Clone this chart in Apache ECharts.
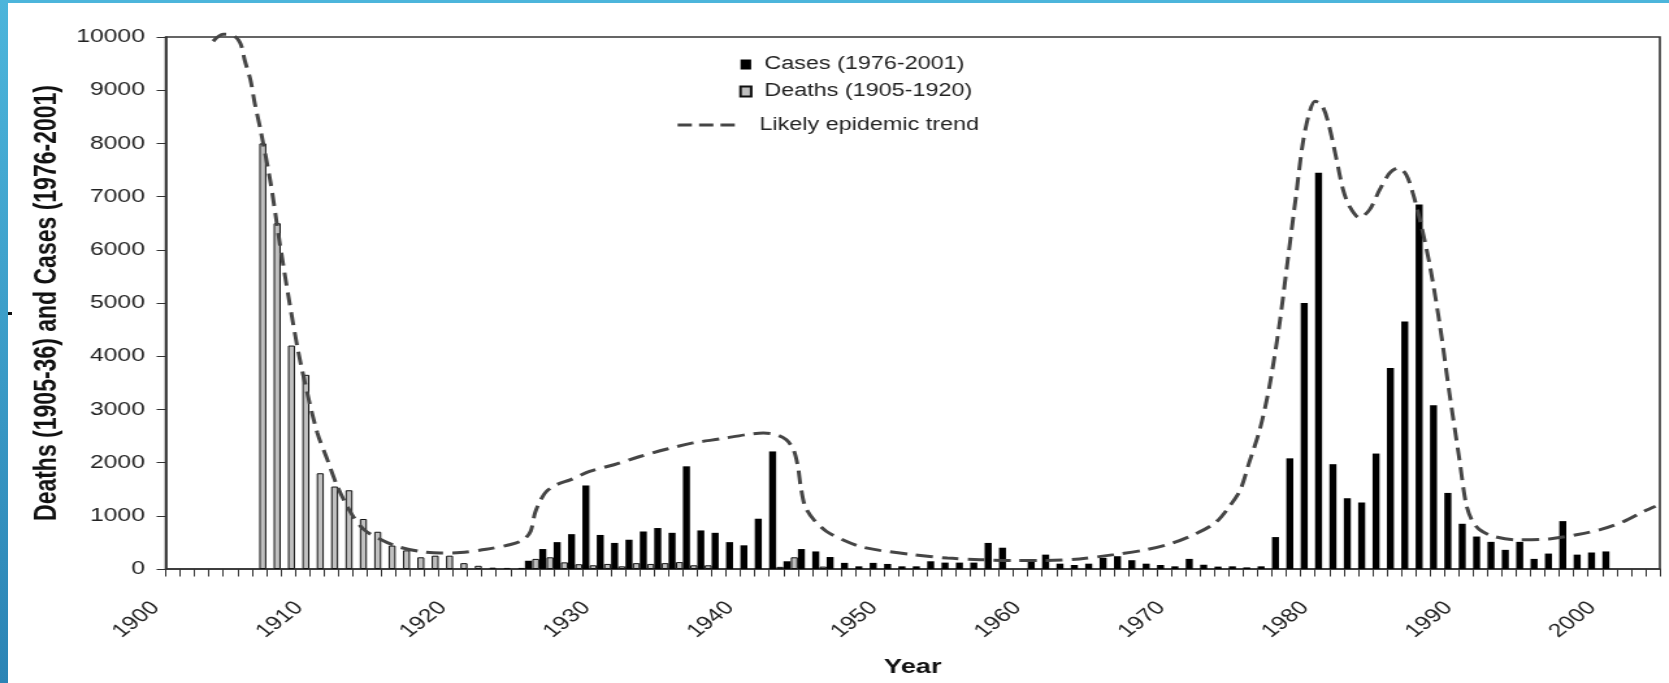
<!DOCTYPE html>
<html>
<head>
<meta charset="utf-8">
<script src="https://cdn.jsdelivr.net/npm/echarts@6/dist/echarts.min.js"></script>
<style>
  html, body { margin: 0; padding: 0; background: #fff; overflow: hidden; }
  #chart {
    position: absolute; left: 0; top: 0;
    width: 1284px; height: 683px;
    /* the source figure is stretched horizontally */
    transform: scaleX(1.2998); transform-origin: 0 0;
  }
  .edge-left { position: absolute; left: 0; top: 0; width: 8px; height: 683px; background: linear-gradient(#4cb5db, #2b84b5); z-index: 2; }
  .edge-top { position: absolute; left: 0; top: 0; width: 1669px; height: 3px; background: #4cb5db; z-index: 2; }
  .mark { position: absolute; left: 8px; top: 312px; width: 4px; height: 3px; background: #111; z-index: 2; }
</style>
</head>
<body>
<div id="chart"></div>
<div class="edge-left"></div>
<div class="edge-top"></div>
<div class="mark"></div>
<script>
const FONT = "'Liberation Sans', Arial, sans-serif";

// category axis: one slot per year
const firstYear = 1900;
const lastYear = 2004;

// grey bars, from 1907
const deathsFrom = 1907;
const deaths = [8000, 6500, 4200, 3650, 1800, 1550, 1480, 940, 700, 440,
  350, 220, 250, 250, 110, 60, 25, 20, 20, 190,
  220, 125, 90, 70, 95, 50, 110, 95, 110, 130,
  70, 70, 0, 0, 0, 0, 40, 220, 0, 45];

// black bars, from 1925
const casesFrom = 1925;
const cases = [155, 375, 505, 655, 1570, 640, 490, 550, 705, 770,
  680, 1930, 725, 680, 505, 445, 945, 2210, 145, 375,
  330, 225, 115, 50, 115, 95, 50, 50, 145, 120,
  120, 120, 490, 400, 0, 145, 270, 100, 75, 100,
  210, 240, 165, 100, 75, 50, 190, 80, 45, 50,
  30, 50, 600, 2080, 5000, 7450, 1970, 1330, 1250, 2170,
  3780, 4650, 6850, 3080, 1430, 850, 610, 510, 360, 510,
  190, 290, 900, 270, 310, 330];

// dashed trend, [year, value]
const trend = [
  [1903.3, 9920], [1904.0, 10050], [1904.7, 10030], [1905.2, 9880], [1905.5, 9560],
  [1905.9, 9190], [1906.2, 8750], [1906.6, 8250], [1907.3, 7260], [1907.9, 6190],
  [1908.5, 5190], [1909.2, 4120], [1909.85, 3310], [1910.55, 2560], [1911.25, 2055],
  [1911.95, 1550], [1912.9, 1050], [1913.8, 740], [1915.0, 550], [1916.1, 425],
  [1917.7, 330], [1919.1, 300], [1920.5, 310], [1922.3, 370], [1924.0, 460],
  [1924.9, 550], [1925.4, 710], [1925.7, 1050], [1926.1, 1300], [1926.5, 1460],
  [1927.2, 1585], [1928.2, 1680], [1929.5, 1835], [1931.2, 1960], [1933.0, 2115],
  [1934.9, 2255], [1936.7, 2370], [1938.6, 2445], [1940.4, 2525], [1941.6, 2555],
  [1942.5, 2525], [1943.2, 2430], [1943.7, 2240], [1944.0, 1930], [1944.2, 1550],
  [1944.5, 1180], [1945.1, 930], [1946.0, 705], [1947.2, 540], [1948.3, 425],
  [1949.7, 350], [1952.0, 270], [1954.4, 205], [1956.7, 175], [1959.0, 160],
  [1961.3, 160], [1963.6, 190], [1966.0, 270], [1968.3, 365], [1970.1, 490],
  [1971.8, 675], [1973.1, 880], [1974.1, 1200], [1974.8, 1490], [1975.4, 1990],
  [1976.15, 2620], [1976.8, 3400], [1977.5, 4560], [1978.1, 5810], [1978.7, 7070],
  [1979.15, 8010], [1979.6, 8570], [1980.0, 8790], [1980.45, 8730], [1980.9, 8410],
  [1981.5, 7690], [1981.95, 7130], [1982.4, 6815], [1983.1, 6600], [1983.8, 6755],
  [1984.5, 7130], [1985.2, 7445], [1985.8, 7540], [1986.35, 7410], [1986.8, 7070],
  [1987.3, 6565], [1988.0, 5690], [1988.7, 4560], [1989.35, 3310], [1990.05, 2055],
  [1990.5, 1240], [1990.9, 925], [1991.45, 740], [1992.4, 615], [1994.0, 550],
  [1996.3, 565], [1998.2, 645], [1999.85, 740], [2001.5, 895], [2002.9, 1085],
  [2003.7, 1180]
];

const yMax = 10000;
const yStep = 1000;

const years = [];
for (let y = firstYear; y <= lastYear; y++) years.push(String(y));

function padSeries(from, values) {
  return years.map(function (y) {
    const v = values[Number(y) - from];
    return v ? v : null;
  });
}

const axisColor = "#333";
const trendColor = "#454545";
const chart = echarts.init(document.getElementById("chart"));

chart.setOption({
  animation: false,
  textStyle: { fontFamily: FONT },
  grid: {
    left: 127.5, right: 7, top: 37, bottom: 114,
    show: true, borderColor: axisColor, borderWidth: 1.6
  },
  legend: [
    {
      orient: "vertical",
      left: 568.7, top: 55.5,
      padding: 0,
      itemGap: 9,
      itemWidth: 8.2, itemHeight: 10,
      symbolKeepAspect: false,
      selectedMode: false,
      data: [
        { name: "Cases (1976-2001)", icon: "rect" },
        { name: "Deaths (1905-1920)", icon: "rect" }
      ],
      textStyle: { fontSize: 18, color: "#222", padding: [0, 0, 0, 5] }
    },
    {
      orient: "vertical",
      left: 519.8, top: 116,
      padding: 0,
      itemWidth: 44, itemHeight: 10,
      selectedMode: false,
      data: [{ name: "Likely epidemic trend" }],
      itemStyle: { opacity: 0 },
      lineStyle: { type: [11, 5.5], width: 3, color: trendColor },
      textStyle: { fontSize: 18, color: "#222", padding: [0, 0, 0, 14] }
    }
  ],
  xAxis: [
    {
      type: "category",
      data: years,
      boundaryGap: false,
      name: "Year",
      nameLocation: "middle",
      nameGap: 88,
      nameTextStyle: { fontSize: 21, fontWeight: "bold", color: "#111" },
      axisLine: { lineStyle: { color: axisColor, width: 1.6 } },
      axisTick: { show: true, interval: 0, length: 7.5, lineStyle: { color: axisColor, width: 1 } },
      axisLabel: {
        interval: 9, rotate: 45, margin: 28, padding: [0, 11, 0, 0],
        fontSize: 19, color: "#222"
      },
      splitLine: { show: false }
    },
    { type: "value", min: firstYear, max: lastYear, show: false }
  ],
  yAxis: {
    type: "value",
    min: 0, max: yMax, interval: yStep,
    name: "Deaths (1905-36) and Cases (1976-2001)",
    nameLocation: "middle",
    nameGap: 79,
    nameTextStyle: { fontSize: 23, fontWeight: "bold", color: "#111" },
    axisLine: { show: true, lineStyle: { color: axisColor, width: 1.6 } },
    axisTick: { show: true, length: 7, lineStyle: { color: axisColor, width: 1 } },
    axisLabel: { margin: 16, fontSize: 19, color: "#222", formatter: function (v) { return String(v); } },
    splitLine: { show: false }
  },
  series: [
    {
      name: "Deaths (1905-1920)",
      type: "bar",
      data: padSeries(deathsFrom, deaths),
      barWidth: 5.4,
      barGap: "0%",
      itemStyle: { color: "#c0c0c0", borderColor: "#111", borderWidth: 1 }
    },
    {
      name: "Cases (1976-2001)",
      type: "bar",
      data: padSeries(casesFrom, cases),
      barWidth: 5.4,
      barGap: "0%",
      itemStyle: { color: "#000" }
    },
    {
      name: "Likely epidemic trend",
      type: "line",
      xAxisIndex: 1,
      data: trend,
      smooth: 0.3,
      symbol: "none",
      clip: false,
      z: 5,
      itemStyle: { color: trendColor },
      lineStyle: { type: [13, 7], width: 3, color: trendColor }
    }
  ]
});
</script>
</body>
</html>
